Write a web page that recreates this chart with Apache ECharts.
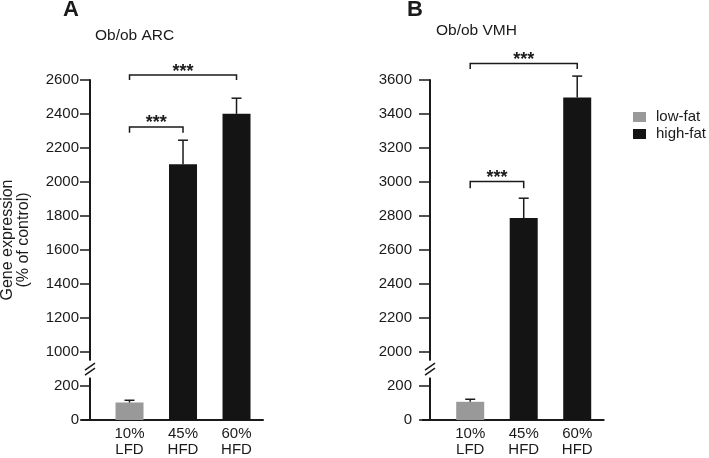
<!DOCTYPE html>
<html><head><meta charset="utf-8">
<script src="https://cdn.jsdelivr.net/npm/echarts@6/dist/echarts.min.js"></script>
<style>html,body{margin:0;padding:0;background:#fff}#c{width:709px;height:458px}</style>
</head><body><div id="c"></div>
<script>
// ---- data ----
const categories = ['10%\nLFD', '45%\nHFD', '60%\nHFD'];
const dietGroup = ['low-fat', 'high-fat', 'high-fat'];
const arcMeans = [103, 2104, 2401];
const arcErrs = [13, 142, 92];
const vmhMeans = [107, 2788, 3497];
const vmhErrs = [15, 117, 126];
const arcTicks = [0, 200, 1000, 1200, 1400, 1600, 1800, 2000, 2200, 2400, 2600];
const vmhTicks = [0, 200, 2000, 2200, 2400, 2600, 2800, 3000, 3200, 3400, 3600];
const arcBreak = [250, 950];
const vmhBreak = [250, 1950];
// [fromIndex, toIndex, lineValue, tipValue]
const arcBrackets = [[0, 2, 2629, 2600], [0, 1, 2324, 2290]];
const vmhBrackets = [[0, 2, 3697, 3664], [0, 1, 3003, 2964]];

// ---- styles ----
const FONT = 'Liberation Sans, Arial, Helvetica, sans-serif';
const INK = '#1a1a1a';
const X_MIN = -0.888, X_MAX = 2.495;

const panels = [
  {means: arcMeans, errs: arcErrs, ticks: arcTicks, brk: arcBreak, brackets: arcBrackets, max: 2600,
   left: 82, shift: 8, tickLen: 10, labelMargin: 11},
  {means: vmhMeans, errs: vmhErrs, ticks: vmhTicks, brk: vmhBreak, brackets: vmhBrackets, max: 3600,
   left: 422.7, shift: 7.3, tickLen: 11, labelMargin: 18}
];

const grids = [], xAxes = [], yAxes = [], series = [];
panels.forEach((p, gi) => {
  grids.push({left: p.left, top: 80, width: 181, height: 343});
  xAxes.push({
    gridIndex: gi, type: 'value', min: X_MIN, max: X_MAX,
    axisLine: {show: true, onZero: false, lineStyle: {color: INK, width: 2}},
    axisTick: {show: false}, splitLine: {show: false},
    axisLabel: {customValues: [0, 1, 2], formatter: v => categories[Math.round(v)],
      fontSize: 15, lineHeight: 16, margin: 6, color: INK, fontFamily: FONT}
  });
  yAxes.push({
    gridIndex: gi, type: 'value', min: 0, max: p.max,
    breaks: [{start: p.brk[0], end: p.brk[1], gap: 99}],
    breakArea: {show: false},
    offset: -p.shift,
    axisLine: {show: true, onZero: false, lineStyle: {color: INK, width: 2}},
    axisTick: {show: true, length: p.tickLen, customValues: p.ticks, lineStyle: {color: INK, width: 1.5}},
    axisLabel: {customValues: p.ticks, formatter: v => String(v), margin: p.labelMargin, fontSize: 15, color: INK, fontFamily: FONT},
    splitLine: {show: false}
  });
  const low = [], high = [];
  p.means.forEach((v, i) => (dietGroup[i] === 'low-fat' ? low : high).push([i, v]));
  series.push({type: 'bar', name: 'low-fat', xAxisIndex: gi, yAxisIndex: gi, data: low,
    barWidth: 28, barGap: '-100%', itemStyle: {color: '#999999'}});
  series.push({type: 'bar', name: 'high-fat', xAxisIndex: gi, yAxisIndex: gi, data: high,
    barWidth: 28, barGap: '-100%', itemStyle: {color: '#141414'}});
  series.push({type: 'custom', xAxisIndex: gi, yAxisIndex: gi, silent: true, z: 5,
    data: p.means.map((v, i) => [i, v, p.errs[i]]),
    encode: {x: 0, y: 1},
    renderItem: (params, api) => {
      const x = api.value(0), m = api.value(1), e = api.value(2);
      const a = api.coord([x, m]), b = api.coord([x, m + e]);
      const st = {stroke: INK, lineWidth: 1.5};
      return {type: 'group', children: [
        {type: 'line', shape: {x1: a[0], y1: a[1], x2: b[0], y2: b[1]}, style: st},
        {type: 'line', shape: {x1: b[0] - 5, y1: b[1], x2: b[0] + 5, y2: b[1]}, style: st}
      ]};
    }});
  series.push({type: 'custom', xAxisIndex: gi, yAxisIndex: gi, silent: true, z: 5,
    data: p.brackets, encode: {x: [0, 1], y: [2, 3]},
    renderItem: (params, api) => {
      const a = api.coord([api.value(0), api.value(2)]);
      const b = api.coord([api.value(1), api.value(2)]);
      const t = api.coord([api.value(0), api.value(3)]);
      return {type: 'group', children: [
        {type: 'polyline', shape: {points: [[a[0], t[1]], [a[0], a[1]], [b[0], a[1]], [b[0], t[1]]]},
          style: {stroke: INK, lineWidth: 1.5, fill: null}},
        {type: 'text', x: (a[0] + b[0]) / 2, y: a[1] - 3.5,
          style: {text: '***', fontSize: 18, fontWeight: 'bold', fontFamily: FONT, fill: INK,
            align: 'center', verticalAlign: 'middle'}}
      ]};
    }});
  // axis break: gap in the axis line plus the "//" marks
  series.push({type: 'custom', xAxisIndex: gi, yAxisIndex: gi, silent: true, z: 20,
    data: [[X_MIN, p.brk[0], p.brk[1]]], encode: {x: 0, y: [1, 2]},
    renderItem: (params, api) => {
      const lo = api.coord([api.value(0), api.value(1)]);
      const hi = api.coord([api.value(0), api.value(2)]);
      const x = lo[0] + p.shift, y = (lo[1] + hi[1]) / 2;
      const st = {stroke: INK, lineWidth: 1.5};
      return {type: 'group', children: [
        {type: 'rect', shape: {x: x - 2, y: hi[1], width: 4, height: lo[1] - hi[1]}, style: {fill: '#fff'}},
        {type: 'line', shape: {x1: x - 5, y1: y + 1, x2: x + 5, y2: y - 6}, style: st},
        {type: 'line', shape: {x1: x - 5, y1: y + 6, x2: x + 5, y2: y - 1}, style: st}
      ]};
    }});
});

const chart = echarts.init(document.getElementById('c'), null, {renderer: 'canvas'});
chart.setOption({
  animation: false,
  backgroundColor: '#fff',
  textStyle: {fontFamily: FONT},
  title: [
    {text: 'A', left: 63, top: -1, padding: 0, textStyle: {fontSize: 22, fontWeight: 'bold', color: INK, fontFamily: FONT}},
    {text: 'Ob/ob ARC', left: 95, top: 28, padding: 0, textStyle: {fontSize: 15.5, fontWeight: 'normal', color: INK, fontFamily: FONT}},
    {text: 'B', left: 407, top: -1, padding: 0, textStyle: {fontSize: 22, fontWeight: 'bold', color: INK, fontFamily: FONT}},
    {text: 'Ob/ob VMH', left: 436, top: 23, padding: 0, textStyle: {fontSize: 15.5, fontWeight: 'normal', color: INK, fontFamily: FONT}}
  ],
  legend: {data: ['low-fat', 'high-fat'], orient: 'vertical', left: 633, top: 109.5, padding: 0,
    itemWidth: 13, itemHeight: 10, itemGap: 2, icon: 'rect',
    textStyle: {fontSize: 15, lineHeight: 15, color: INK, fontFamily: FONT, padding: [0, 0, 0, 5]}},
  graphic: [{type: 'text', x: 16, y: 240, rotation: Math.PI / 2,
    style: {text: 'Gene expression\n(% of control)', fontSize: 16, lineHeight: 16, fontFamily: FONT,
      fill: INK, align: 'center', verticalAlign: 'middle'}}],
  grid: grids, xAxis: xAxes, yAxis: yAxes, series: series
});
</script></body></html>
